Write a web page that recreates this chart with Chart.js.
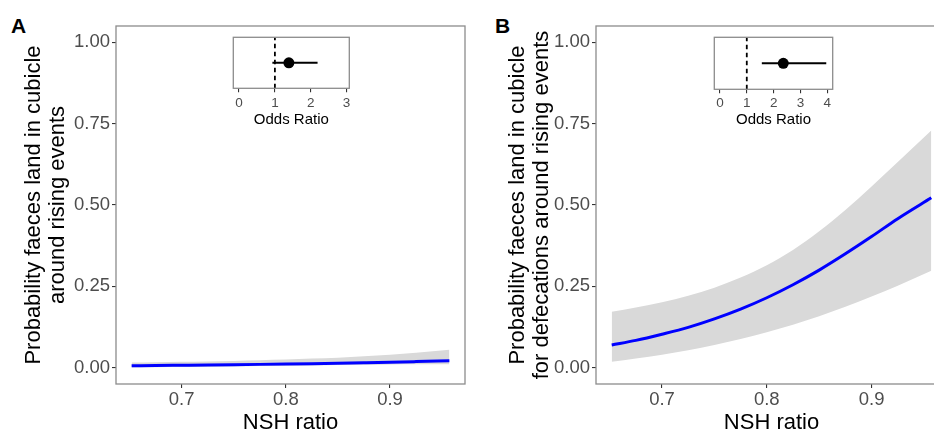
<!DOCTYPE html>
<html>
<head>
<meta charset="utf-8">
<script src="https://cdn.jsdelivr.net/npm/chart.js@4.4.0/dist/chart.umd.min.js"></script>
<style>
  html, body { margin: 0; padding: 0; width: 934px; height: 436px; overflow: hidden; background: #fff; }
  canvas { position: absolute; }
  .tag { position: absolute; font: bold 21px "Liberation Sans", Arial, sans-serif; color: #000; line-height: 1; }
</style>
</head>
<body>
<div class="tag" style="left:11px;top:15px">A</div>
<div class="tag" style="left:495px;top:15px">B</div>
<canvas id="mainA" width="470" height="436" style="left:0;top:0"></canvas>
<canvas id="mainB" width="482" height="436" style="left:470px;top:0"></canvas>
<canvas id="insetA" width="140" height="100" style="left:225px;top:30px"></canvas>
<canvas id="insetB" width="140" height="100" style="left:705px;top:30px"></canvas>
<script>
// NSH ratio grid for the fitted curves
const nshRatio = [0.652, 0.675, 0.70, 0.725, 0.75, 0.775, 0.80, 0.825, 0.85, 0.875, 0.90, 0.925, 0.957];

// Panel A: probability faeces land in cubicle around rising events
const fitA   = [0.0062, 0.0068, 0.0076, 0.0084, 0.0093, 0.0103, 0.0114, 0.0126, 0.0139, 0.0154, 0.0170, 0.0188, 0.0212];
const lowerA = [0.0010, 0.0015, 0.0020, 0.0030, 0.0040, 0.0050, 0.0060, 0.0070, 0.0080, 0.0090, 0.0100, 0.0105, 0.0110];
const upperA = [0.0160, 0.0170, 0.0180, 0.0195, 0.0210, 0.0230, 0.0250, 0.0280, 0.0310, 0.0350, 0.0400, 0.0460, 0.0550];

// Panel B: probability faeces land in cubicle for defecations around rising events
const fitB   = [0.070, 0.084, 0.103, 0.124, 0.150, 0.180, 0.215, 0.255, 0.300, 0.350, 0.403, 0.458, 0.522];
const lowerB = [0.018, 0.028, 0.040, 0.054, 0.070, 0.088, 0.109, 0.132, 0.158, 0.187, 0.219, 0.252, 0.298];
const upperB = [0.172, 0.185, 0.201, 0.221, 0.246, 0.277, 0.315, 0.362, 0.419, 0.485, 0.557, 0.632, 0.729];

// Odds ratios with 95% confidence intervals
const oddsRatioA = 1.39, ciA = [0.93, 2.19];
const oddsRatioB = 2.36, ciB = [1.56, 3.96];

// Tick labels
const xTicks = [0.7, 0.8, 0.9];
const yTicks = [0, 0.25, 0.5, 0.75, 1];
const orTicksA = [0, 1, 2, 3];
const orTicksB = [0, 1, 2, 3, 4];

const FAMILY = '"Liberation Sans", Arial, Helvetica, sans-serif';
const FRAME = '#8c8c8c';
const TICK_TEXT = '#4d4d4d';

// Panel border drawn on top of everything
const framePlugin = {
  id: 'frame',
  afterDraw(chart) {
    const { ctx, chartArea: a } = chart;
    ctx.save();
    ctx.strokeStyle = FRAME;
    ctx.lineWidth = 1.3;
    ctx.strokeRect(a.left, a.top, a.right - a.left, a.bottom - a.top);
    ctx.restore();
  }
};

const pts = (ys) => nshRatio.map((x, i) => ({ x, y: ys[i] }));

function mainChart(id, fit, lower, upper, yTitle, yWidth, titlePad) {
  return new Chart(document.getElementById(id), {
    type: 'line',
    data: {
      datasets: [
        { data: pts(fit), borderColor: '#0000ff', borderWidth: 3, pointRadius: 0, fill: false,
          cubicInterpolationMode: 'monotone' },
        { data: pts(lower), borderWidth: 0, borderColor: 'rgba(0,0,0,0)', pointRadius: 0, fill: false,
          cubicInterpolationMode: 'monotone' },
        { data: pts(upper), borderWidth: 0, borderColor: 'rgba(0,0,0,0)', pointRadius: 0, fill: '-1',
          backgroundColor: '#d9d9d9', cubicInterpolationMode: 'monotone' }
      ]
    },
    options: {
      responsive: false,
      animation: false,
      layout: { padding: { top: 26, right: 5, left: 0, bottom: 0 } },
      plugins: { legend: { display: false }, tooltip: { enabled: false } },
      scales: {
        x: {
          type: 'linear', min: 0.637, max: 0.972,
          afterBuildTicks: (s) => { s.ticks = xTicks.map(v => ({ value: v })); },
          afterFit: (s) => { s.height = 52; },
          grid: { display: true, drawOnChartArea: false, tickLength: 4, color: '#333', lineWidth: 1.1 },
          border: { display: false },
          ticks: { color: TICK_TEXT, font: { family: FAMILY, size: 18.5 }, padding: 1,
                   callback: (v) => v.toFixed(1) },
          title: { display: true, text: 'NSH ratio', color: '#000',
                   font: { family: FAMILY, size: 22 }, padding: { top: 0, bottom: 0 } }
        },
        y: {
          type: 'linear', min: -0.05, max: 1.05,
          afterBuildTicks: (s) => { s.ticks = yTicks.map(v => ({ value: v })); },
          afterFit: (s) => { s.width = yWidth; },
          grid: { display: true, drawOnChartArea: false, tickLength: 4, color: '#333', lineWidth: 1.1 },
          border: { display: false },
          ticks: { color: TICK_TEXT, font: { family: FAMILY, size: 18.5 }, padding: 2,
                   callback: (v) => v.toFixed(2) },
          title: { display: true, text: yTitle, color: '#000',
                   font: { family: FAMILY, size: 22, lineHeight: 1.11 }, padding: { top: titlePad, bottom: 0 } }
        }
      }
    },
    plugins: [framePlugin]
  });
}

function insetChart(id, or, ci, ticks, xmin, xmax, pad, axisH, tickPad) {
  return new Chart(document.getElementById(id), {
    type: 'line',
    data: {
      datasets: [
        { data: [{ x: or, y: 1 }], showLine: false, pointRadius: 5.5, pointBackgroundColor: '#000',
          pointBorderWidth: 0 },
        { data: [{ x: ci[0], y: 1 }, { x: ci[1], y: 1 }], borderColor: '#000', borderWidth: 2, pointRadius: 0 },
        { data: [{ x: 1, y: 0 }, { x: 1, y: 2 }], borderColor: '#000', borderWidth: 1.8,
          borderDash: [4.5, 3.5], pointRadius: 0 }
      ]
    },
    options: {
      responsive: false,
      animation: false,
      layout: { padding: { left: pad.left, right: pad.right, top: pad.top, bottom: 0 } },
      plugins: { legend: { display: false }, tooltip: { enabled: false } },
      scales: {
        x: {
          type: 'linear', min: xmin, max: xmax,
          afterBuildTicks: (s) => { s.ticks = ticks.map(v => ({ value: v })); },
          afterFit: (s) => { s.height = axisH; },
          grid: { display: true, drawOnChartArea: false, tickLength: 4, color: '#333', lineWidth: 1.1 },
          border: { display: false },
          ticks: { color: TICK_TEXT, font: { family: FAMILY, size: 13.5 }, padding: tickPad,
                   callback: (v) => String(v) },
          title: { display: true, text: 'Odds Ratio', color: '#000',
                   font: { family: FAMILY, size: 15 }, padding: { top: 0, bottom: 1 } }
        },
        y: { display: false, min: 0, max: 2 }
      }
    },
    plugins: [framePlugin]
  });
}

mainChart('mainA', fitA, lowerA, upperA,
  ['Probability faeces land in cubicle', 'around rising events'], 116, 21.8);
mainChart('mainB', fitB, lowerB, upperB,
  ['Probability faeces land in cubicle', 'for defecations around rising events'], 126, 35.3);

insetChart('insetA', oddsRatioA, ciA, orTicksA, -0.16, 3.075,
  { left: 8.3, right: 15.7, top: 7.3 }, 41.7, 2.4);
insetChart('insetB', oddsRatioB, ciB, orTicksB, -0.21, 4.2,
  { left: 9.3, right: 12.3, top: 7.3 }, 40.7, 1.4);
</script>
</body>
</html>
